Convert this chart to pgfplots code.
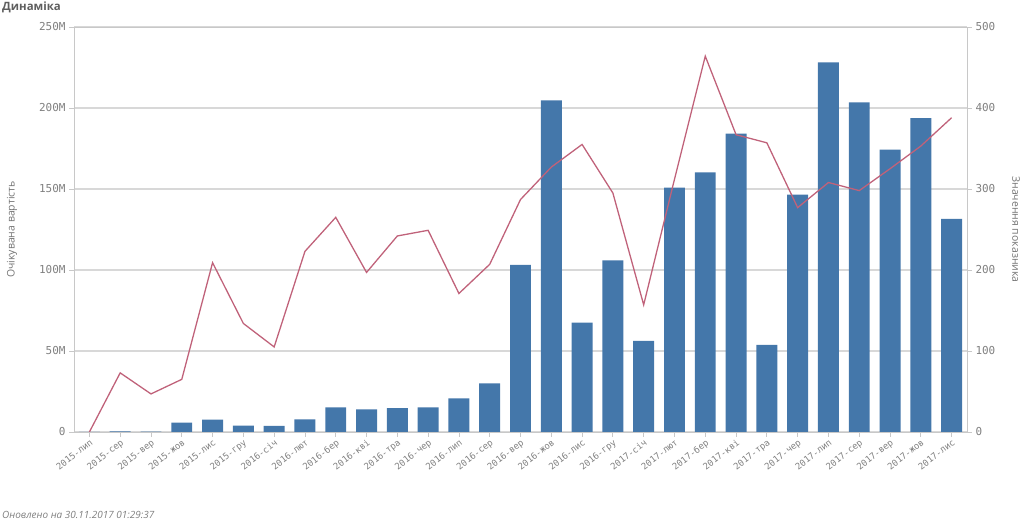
\documentclass[border=0pt]{standalone}
\usepackage{fontspec}
\setmainfont{Open Sans}
\newfontfamily\monof{DejaVu Sans Mono}
\usepackage{pgfplots}
\pgfplotsset{compat=1.18}
\usepackage{pgfplotstable}

\definecolor{barblue}{RGB}{68,119,170}
\definecolor{linered}{RGB}{192,98,122}
\definecolor{gridgray}{RGB}{216,216,216}
\definecolor{axgray}{RGB}{200,200,200}
\definecolor{txtgray}{RGB}{128,128,128}
\definecolor{titlegray}{RGB}{95,95,95}

\pgfplotstableread{
x val ind
0 0 0
1 0.4 73
2 0.3 47
3 5.8 65
4 7.6 209
5 3.9 134
6 3.7 105
7 7.8 223
8 15.2 265
9 14.0 197
10 14.8 242
11 15.2 249
12 20.8 171
13 30.0 207
14 103.1 287
15 204.7 327
16 67.5 355
17 106.0 295
18 56.2 157
19 150.8 312
20 160.3 464
21 184.2 367
22 53.7 357
23 146.5 277
24 228.2 308
25 203.5 298
26 174.3 325
27 193.8 353
28 131.5 388
}\datatable

\begin{document}
\begin{tikzpicture}[x=1bp,y=1bp]
\path[use as bounding box] (0,0) rectangle (1024,523);
\node[anchor=north west, inner sep=0, font=\bfseries\fontsize{11.5}{13}\selectfont, text=titlegray] at (2,521) {Динаміка};
\node[anchor=south west, inner sep=0, font=\itshape\fontsize{10}{12}\selectfont, text=txtgray] at (2,4) {Оновлено на 30.11.2017 01:29:37};

\begin{axis}[
  at={(74bp,91bp)}, anchor=south west,
  scale only axis, width=893bp, height=405bp,
  xmin=-0.5, xmax=28.5, ymin=0, ymax=250,
  axis line style={axgray, line width=0.8pt},
  ytick={0,50,100,150,200,250},
  yticklabels={0,50M,100M,150M,200M,250M},
  ytick pos=left, xtick pos=bottom,
  tick align=outside, major tick length=5bp,
  tick style={axgray, line width=0.8pt},
  ymajorgrids, grid style={gridgray, line width=1.2pt},
  xtick={0,...,28},
  xticklabels={2015-лип,2015-сер,2015-вер,2015-жов,2015-лис,2015-гру,2016-січ,2016-лют,2016-бер,2016-кві,2016-тра,2016-чер,2016-лип,2016-сер,2016-вер,2016-жов,2016-лис,2016-гру,2017-січ,2017-лют,2017-бер,2017-кві,2017-тра,2017-чер,2017-лип,2017-сер,2017-вер,2017-жов,2017-лис},
  xticklabel style={rotate=38, anchor=north east, inner sep=1bp, font=\monof\fontsize{9}{10}\selectfont, text=txtgray},
  yticklabel style={font=\monof\fontsize{11}{12}\selectfont, text=txtgray},
  ylabel={Очікувана вартість},
  ylabel style={at={(axis description cs:-0.0694,0.5)}, anchor=center, font=\fontsize{10.5}{12}\selectfont, text=txtgray!90!black},
]
\addplot[ybar, bar width=0.68, fill=barblue, draw=none] table[x=x,y=val]{\datatable};
\end{axis}

\begin{axis}[
  at={(74bp,91bp)}, anchor=south west,
  scale only axis, width=893bp, height=405bp,
  xmin=-0.5, xmax=28.5, ymin=0, ymax=500,
  axis x line=none, axis y line*=right,
  axis line style={axgray, line width=0.8pt},
  ytick={0,100,200,300,400,500},
  yticklabels={0,100,200,300,400,500},
  tick align=outside, major tick length=5bp,
  tick style={axgray, line width=0.8pt},
  yticklabel style={font=\monof\fontsize{11}{12}\selectfont, text=txtgray},
  ylabel={Значення показника},
  ylabel style={at={(axis description cs:1.0549,0.5)}, anchor=center, rotate=180, font=\fontsize{10.5}{12}\selectfont, text=txtgray!90!black},
]
\addplot[linered, line width=1.3pt, mark=none] table[x=x,y=ind]{\datatable};
\end{axis}
\end{tikzpicture}
\end{document}
